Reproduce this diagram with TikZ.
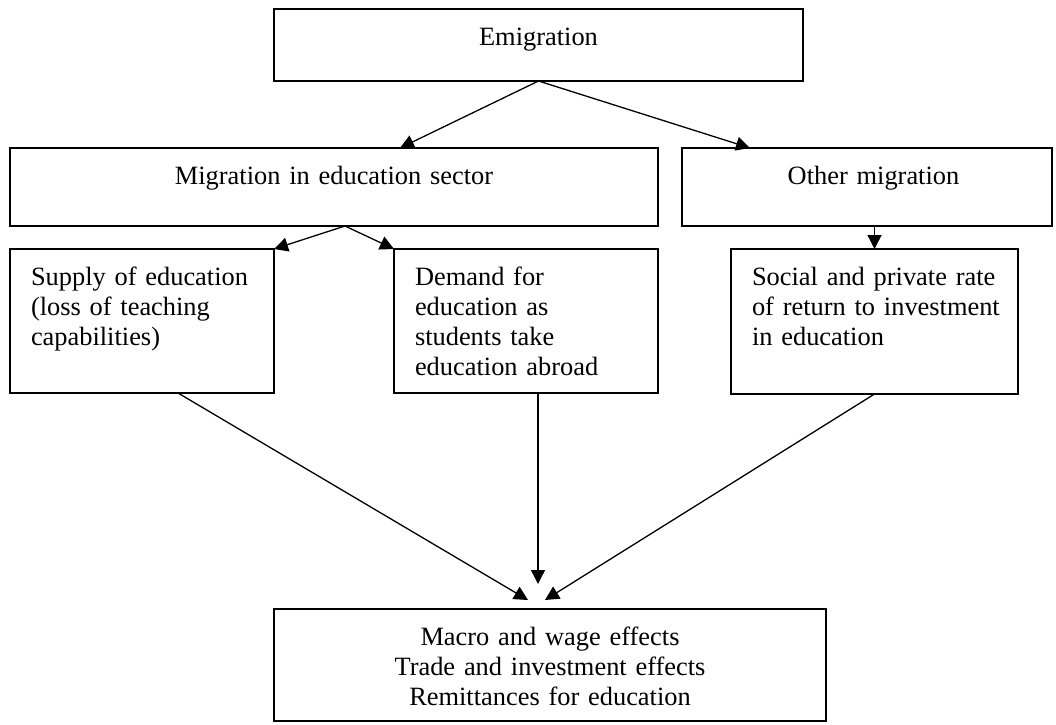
\documentclass[tikz,border=0pt]{standalone}
\usepackage{fontspec}
\setmainfont{Liberation Serif}
\usetikzlibrary{arrows.meta}
\begin{document}
\begin{tikzpicture}[x=1pt,y=-1pt,
  box/.style={draw, line width=1.3pt, inner xsep=21pt, inner ysep=0pt, outer sep=0pt,
    anchor=north west, font=\fontsize{26.4}{30}\selectfont, text height=36pt},
  cbox/.style={box, align=center},
  lbox/.style={box, align=left},
  arr/.style={line width=1.3pt, -{Triangle[length=14pt,width=14pt]}}]
\useasboundingbox (0,0) rectangle (1056,724);
\node[cbox, text width=487pt, text depth=36pt] (emig) at (274,9) {Emigration};
\node[cbox, text width=606pt, text depth=42pt] (mig) at (10,148) {Migration in education sector};
\node[cbox, text width=328pt, text depth=42pt] (other) at (682,148) {\hspace*{13pt}Other migration};
\node[lbox, text width=222pt, text depth=108pt] (supply) at (10,249) {\mbox{Supply of education}\\\mbox{(loss of teaching}\\\mbox{capabilities)}};
\node[lbox, text width=222pt, text depth=108pt] (demand) at (394,249) {\mbox{Demand for}\\\mbox{education as}\\\mbox{students take}\\\mbox{education abroad}};
\node[lbox, text width=245pt, text depth=109pt] (social) at (731,249) {\mbox{Social and private rate}\\\mbox{of return to investment}\\\mbox{in education}};
\node[cbox, text width=510pt, text depth=76pt] (bottom) at (274,609) {Macro and wage effects\\Trade and investment effects\\Remittances for education};
\draw[arr] (emig.south) -- ([xshift=66pt]mig.north);
\draw[arr] (emig.south) -- ([xshift=-117pt]other.north);
\draw[arr] ([xshift=11pt]mig.south) -- (supply.north east);
\draw[arr] ([xshift=11pt]mig.south) -- (demand.north west);
\draw[arr] (other.south -| social.north) -- (social.north);
\draw[arr] ([xshift=36pt]supply.south) -- ([xshift=-22pt,yshift=9pt]bottom.north);
\draw[arr] ([xshift=12pt]demand.south) -- ([xshift=-12pt,yshift=25pt]bottom.north);
\draw[arr] (social.south) -- ([xshift=-5pt,yshift=9pt]bottom.north);
\end{tikzpicture}
\end{document}
